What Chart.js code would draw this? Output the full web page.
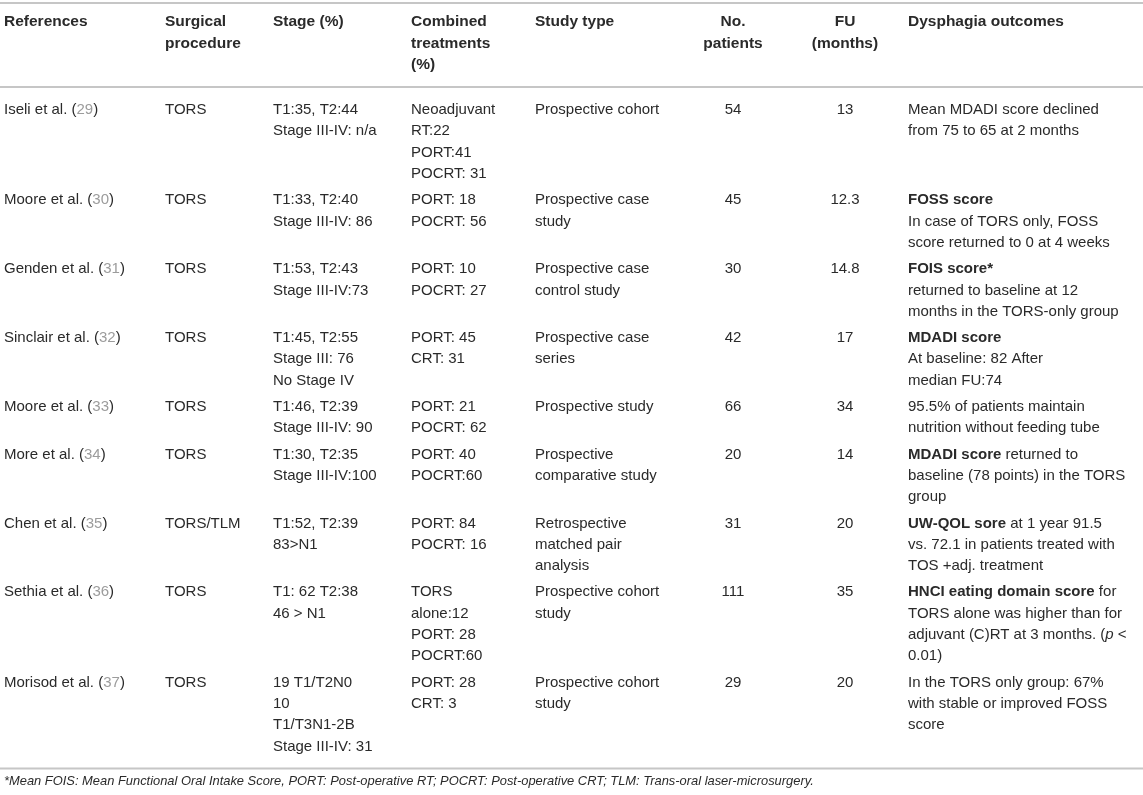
<!DOCTYPE html>
<html>
<head>
<meta charset="utf-8">
<script src="https://cdn.jsdelivr.net/npm/chart.js@4.4.1/dist/chart.umd.min.js"></script>
<style>
  html, body { margin: 0; padding: 0; background: #fff; }
  #wrap { width: 1143px; height: 795px; }
</style>
</head>
<body>
<div id="wrap"><canvas id="table" width="1143" height="795"></canvas></div>
<script>
// table content, one array per column
var headers = [
  ['References'], ['Surgical', 'procedure'], ['Stage (%)'], ['Combined', 'treatments', '(%)'],
  ['Study type'], ['No.', 'patients'], ['FU', '(months)'], ['Dysphagia outcomes']
];
var authors = ['Iseli et al.', 'Moore et al.', 'Genden et al.', 'Sinclair et al.', 'Moore et al.',
  'More et al.', 'Chen et al.', 'Sethia et al.', 'Morisod et al.'];
var refNums = [29, 30, 31, 32, 33, 34, 35, 36, 37];
var procedures = ['TORS', 'TORS', 'TORS', 'TORS', 'TORS', 'TORS', 'TORS/TLM', 'TORS', 'TORS'];
var stages = [
  ['T1:35, T2:44', 'Stage III-IV: n/a'],
  ['T1:33, T2:40', 'Stage III-IV: 86'],
  ['T1:53, T2:43', 'Stage III-IV:73'],
  ['T1:45, T2:55', 'Stage III: 76', 'No Stage IV'],
  ['T1:46, T2:39', 'Stage III-IV: 90'],
  ['T1:30, T2:35', 'Stage III-IV:100'],
  ['T1:52, T2:39', '83>N1'],
  ['T1: 62 T2:38', '46 > N1'],
  ['19 T1/T2N0', '10', 'T1/T3N1-2B', 'Stage III-IV: 31']
];
var treatments = [
  ['Neoadjuvant', 'RT:22', 'PORT:41', 'POCRT: 31'],
  ['PORT: 18', 'POCRT: 56'],
  ['PORT: 10', 'POCRT: 27'],
  ['PORT: 45', 'CRT: 31'],
  ['PORT: 21', 'POCRT: 62'],
  ['PORT: 40', 'POCRT:60'],
  ['PORT: 84', 'POCRT: 16'],
  ['TORS', 'alone:12', 'PORT: 28', 'POCRT:60'],
  ['PORT: 28', 'CRT: 3']
];
var studyTypes = [
  ['Prospective cohort'],
  ['Prospective case', 'study'],
  ['Prospective case', 'control study'],
  ['Prospective case', 'series'],
  ['Prospective study'],
  ['Prospective', 'comparative study'],
  ['Retrospective', 'matched pair', 'analysis'],
  ['Prospective cohort', 'study'],
  ['Prospective cohort', 'study']
];
var patients = [54, 45, 30, 42, 66, 20, 31, 111, 29];
var followUp = [13, 12.3, 14.8, 17, 34, 14, 20, 35, 20];
var outcomes = [
  ['Mean MDADI score declined', 'from 75 to 65 at 2 months'],
  ['<b>FOSS score</b>', 'In case of TORS only, FOSS', 'score returned to 0 at 4 weeks'],
  ['<b>FOIS score*</b>', 'returned to baseline at 12', 'months in the TORS-only group'],
  ['<b>MDADI score</b>', 'At baseline: 82 After', 'median FU:74'],
  ['95.5% of patients maintain', 'nutrition without feeding tube'],
  ['<b>MDADI score</b> returned to', 'baseline (78 points) in the TORS', 'group'],
  ['<b>UW-QOL sore</b> at 1 year 91.5', 'vs. 72.1 in patients treated with', 'TOS +adj. treatment'],
  ['<b>HNCI eating domain score</b> for', 'TORS alone was higher than for', 'adjuvant (C)RT at 3 months. (<i>p</i> <', '0.01)'],
  ['In the TORS only group: 67%', 'with stable or improved FOSS', 'score']
];
var footnote = '*Mean FOIS: Mean Functional Oral Intake Score, PORT: Post-operative RT; POCRT: Post-operative CRT; TLM: Trans-oral laser-microsurgery.';

// layout
var colX = [4, 165, 273, 411, 535, 733, 845, 908];
var colAlign = ['left', 'left', 'left', 'left', 'left', 'center', 'center', 'left'];
var lineH = 21.3, headFirst = 22, bodyFirst = 110, rowGap = 5;
var FONT = "'Liberation Sans', Arial, Helvetica, sans-serif";
var textColor = '#2a2a2a', refColor = '#9c9c9c', ruleColor = '#c6c6c6';

function cellLines(r) {
  return [
    [[[authors[r] + ' (', ''], [String(refNums[r]), 'ref'], [')', '']]],
    [procedures[r]], stages[r], treatments[r], studyTypes[r],
    [String(patients[r])], [String(followUp[r])], outcomes[r]
  ];
}

function parseRich(s) {
  var out = [], re = /<(b|i)>(.*?)<\/\1>/g, last = 0, m;
  while ((m = re.exec(s)) !== null) {
    if (m.index > last) out.push([s.slice(last, m.index), '']);
    out.push([m[2], m[1]]);
    last = re.lastIndex;
  }
  if (last < s.length) out.push([s.slice(last), '']);
  return out;
}

function fontFor(style, size) {
  if (style === 'b') return 'bold ' + size + 'px ' + FONT;
  if (style === 'i') return 'italic ' + size + 'px ' + FONT;
  return size + 'px ' + FONT;
}

function drawRich(ctx, segs, x, y, align, size) {
  var w = 0;
  segs.forEach(function (s) { ctx.font = fontFor(s[1], size); w += ctx.measureText(s[0]).width; });
  var cx = align === 'center' ? x - w / 2 : x;
  segs.forEach(function (s) {
    ctx.font = fontFor(s[1], size);
    ctx.fillStyle = s[1] === 'ref' ? refColor : textColor;
    ctx.fillText(s[0], cx, y);
    cx += ctx.measureText(s[0]).width;
  });
}

var tablePlugin = {
  id: 'tableText',
  afterDraw: function (chart) {
    var ctx = chart.ctx, xs = chart.scales.x, ys = chart.scales.y;
    ctx.save();
    ctx.textBaseline = 'middle';
    ctx.textAlign = 'left';

    function rule(v) {
      ctx.strokeStyle = ruleColor;
      ctx.lineWidth = 2;
      ctx.beginPath();
      ctx.moveTo(xs.getPixelForValue(0), ys.getPixelForValue(v));
      ctx.lineTo(xs.getPixelForValue(1143), ys.getPixelForValue(v));
      ctx.stroke();
    }

    // header
    rule(3);
    headers.forEach(function (h, c) {
      h.forEach(function (t, k) {
        drawRich(ctx, [[t, 'b']], xs.getPixelForValue(colX[c]), ys.getPixelForValue(headFirst + k * lineH), colAlign[c], 15.5);
      });
    });
    rule(87);

    // body rows
    var y = bodyFirst, lastLine = bodyFirst;
    authors.forEach(function (a, r) {
      var cells = cellLines(r), n = 0;
      cells.forEach(function (lines, c) {
        n = Math.max(n, lines.length);
        lines.forEach(function (ln, k) {
          var segs = typeof ln === 'string' ? parseRich(ln) : ln;
          drawRich(ctx, segs, xs.getPixelForValue(colX[c]), ys.getPixelForValue(y + k * lineH), colAlign[c], 15);
        });
      });
      lastLine = y + (n - 1) * lineH;
      y += n * lineH + rowGap;
    });
    var bottom = lastLine + 22;
    rule(bottom);

    // footnote
    drawRich(ctx, [[footnote, 'i']], xs.getPixelForValue(colX[0]), ys.getPixelForValue(bottom + 13), 'left', 12.9);
    ctx.restore();
  }
};

new Chart(document.getElementById('table'), {
  type: 'scatter',
  data: { datasets: [] },
  options: {
    responsive: false,
    animation: false,
    layout: { padding: 0 },
    plugins: { legend: { display: false }, tooltip: { enabled: false } },
    scales: {
      x: { type: 'linear', min: 0, max: 1143, display: false },
      y: { type: 'linear', min: 0, max: 795, reverse: true, display: false }
    }
  },
  plugins: [tablePlugin]
});
</script>
</body>
</html>
